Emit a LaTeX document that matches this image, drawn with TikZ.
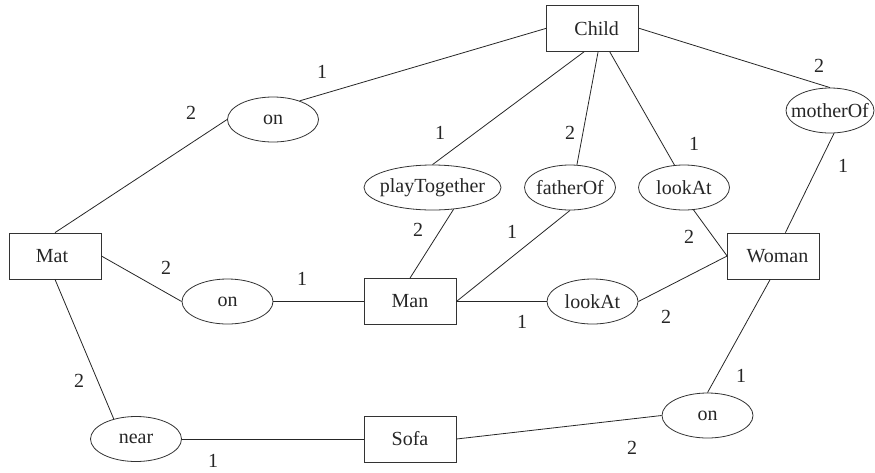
\documentclass[tikz,border=0pt]{standalone}
\usepackage{fontspec}
\setmainfont{Liberation Serif}
\usetikzlibrary{shapes.geometric}
\newcommand\ctrtext[1]{\makebox[0pt]{#1}}
\begin{document}
\begin{tikzpicture}[x=1pt,y=-1pt,
  every node/.style={font=\rmfamily\fontsize{20}{23}\selectfont, text=black!85},
  ent/.style={draw=black!80, line width=0.8pt, rectangle, minimum width=92pt, minimum height=46pt, inner sep=0pt},
  rel/.style={draw=black!80, line width=0.8pt, ellipse, minimum width=91pt, minimum height=45pt, inner sep=0pt},
  lab/.style={inner sep=0pt},
  link/.style={draw=black!85, line width=0.8pt}]
\useasboundingbox (0,0) rectangle (875,472);

% entities
\node[ent] (Child) at (592.7,28.3) {\ctrtext{\hspace{8pt}Child}};
\node[ent] (Mat)   at (55,256)     {\ctrtext{Mat\hspace{6pt}}};
\node[ent] (Man)   at (410,301.5)  {Man};
\node[ent] (Woman) at (773.5,256)  {\ctrtext{\hspace{8pt}Woman}};
\node[ent] (Sofa)  at (410,439)    {Sofa};

% relations
\node[rel] (on1)  at (273,119.5)   {\ctrtext{on}};
\node[rel, minimum width=137pt] (pT) at (432.5,187.5) {\ctrtext{playTogether}};
\node[rel] (fo)   at (570,187.5)   {\ctrtext{fatherOf}};
\node[rel] (la1)  at (684,187.5)   {\ctrtext{lookAt}};
\node[rel, minimum width=88pt] (mo) at (830,110.5) {\ctrtext{motherOf}};
\node[rel] (on2)  at (227.5,301.5) {\ctrtext{on}};
\node[rel] (la2)  at (592.5,301.5) {\ctrtext{lookAt}};
\node[rel] (near) at (136,439)     {\ctrtext{near}};
\node[rel] (on3)  at (707.5,415.5) {\ctrtext{on}};

% connectors
\draw[link] (Mat.north) -- (on1.west);
\draw[link] (on1.35) -- (Child.west);
\draw[link] (Child.250) -- (pT.north);
\draw[link] (Child.283) -- (fo.73);
\draw[link] (Child.306) -- (la1.113);
\draw[link] (Child.east) -- (mo.north);
\draw[link] (mo.-80) -- (Woman.63);
\draw[link] (pT.-46) -- (Man.north);
\draw[link] (fo.south) -- (Man.east);
\draw[link] (la1.-67) -- (Woman.west);
\draw[link] (la2.east) -- (Woman.west);
\draw[link] (Man.east) -- (la2.west);
\draw[link] (Mat.east) -- (on2.west);
\draw[link] (on2.east) -- (Man.west);
\draw[link] (Mat.south) -- (near.138);
\draw[link] (near.east) -- (Sofa.west);
\draw[link] (Sofa.east) -- (on3.west);
\draw[link] (Woman.262) -- (on3.north);

% argument numbers
\node[lab] (n1)  at (322,72)  {1};
\node[lab] (n2)  at (191,113) {2};
\node[lab] (n3)  at (440,133) {1};
\node[lab] (n4)  at (570,133) {2};
\node[lab] (n5)  at (694,144) {1};
\node[lab] (n6)  at (819,66)  {2};
\node[lab] (n7)  at (843,166) {1};
\node[lab] (n8)  at (418,230) {2};
\node[lab] (n9)  at (512,232) {1};
\node[lab] (n10) at (689,237) {2};
\node[lab] (n11) at (166,268) {2};
\node[lab] (n12) at (302,279) {1};
\node[lab] (n13) at (522,322) {1};
\node[lab] (n14) at (666,317) {2};
\node[lab] (n15) at (79,381)  {2};
\node[lab] (n16) at (213,461) {1};
\node[lab] (n17) at (741,376) {1};
\node[lab] (n18) at (632,448) {2};
\end{tikzpicture}
\end{document}
